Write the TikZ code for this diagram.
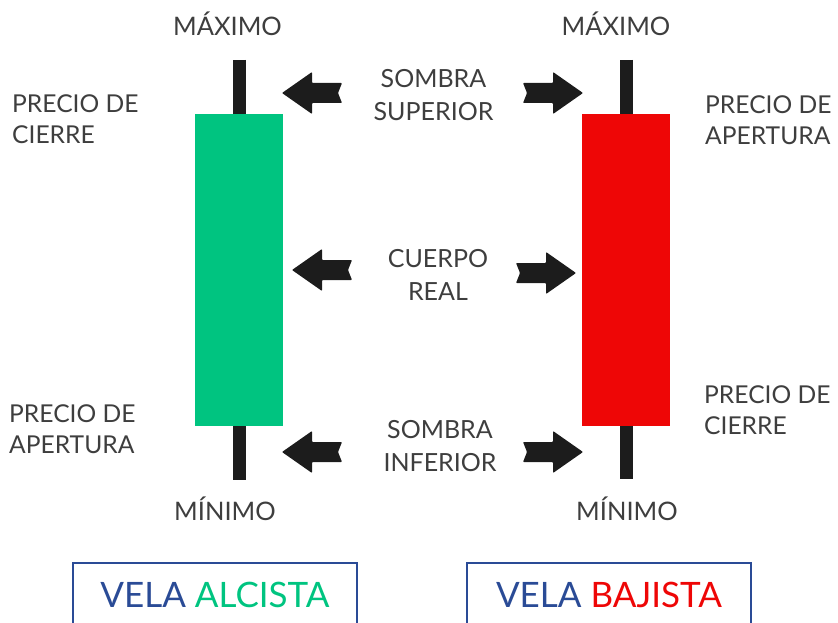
\documentclass[tikz,border=0pt]{standalone}
\usepackage{fontspec}
\setmainfont{Lato}
\usepackage{tikz}
\usetikzlibrary{positioning, calc}
\definecolor{alcista}{RGB}{0,196,128}
\definecolor{bajista}{RGB}{238,6,6}
\definecolor{mecha}{RGB}{28,28,28}
\definecolor{texto}{RGB}{62,62,62}
\definecolor{marco}{RGB}{42,75,150}
\tikzstyle{etiqueta} = [text=texto, inner sep=0, font=\fontsize{25.5}{30}\selectfont]
\tikzstyle{precio} = [text=texto, inner sep=0, align=left, anchor=north west, font=\fontsize{24.6}{31}\selectfont]
\tikzstyle{centro} = [text=texto, inner sep=0, align=center, anchor=north, font=\fontsize{25}{33}\selectfont]
\tikzstyle{cuerpo} = [rectangle, inner sep=0, minimum width=88pt, minimum height=312pt, anchor=north west]
\tikzstyle{mechaline} = [draw=mecha, line width=13pt]
\tikzstyle{titulo} = [rectangle, draw=marco, line width=2.5pt, minimum width=284pt, minimum height=63pt, font=\fontsize{35}{40}\selectfont]
\tikzset{flecha/.pic={
    \fill[mecha, rounded corners=0.8pt] (0,0) -- (-30,-21) -- (-30,-10) -- (-60,-10) -- (-56,0) -- (-60,10) -- (-30,10) -- (-30,21) -- cycle;
}}

\begin{document}
\begin{tikzpicture}[x=1pt, y=-1pt]
        \useasboundingbox (0,0) rectangle (838,623);

        % velas
        \coordinate (maxv) at (239.5,60);
        \coordinate (minv) at (239.5,480);
        \coordinate (maxr) at (626.5,60);
        \coordinate (minr) at (626.5,479);
        \draw [mechaline] (maxv) -- (minv);
        \draw [mechaline] (maxr) -- (minr);
        \node (verde) [cuerpo, fill=alcista] at (195,114) {};
        \node (roja) [cuerpo, fill=bajista] at (582,114) {};

        % textos
        \node (maximov) [etiqueta, anchor=base] at (227.5,36) {MÁXIMO};
        \node (maximor) [etiqueta, anchor=base] at (616,36) {MÁXIMO};
        \node (minimov) [etiqueta, anchor=base] at (225,520) {MÍNIMO};
        \node (minimor) [etiqueta, anchor=base] at (627,520) {MÍNIMO};
        \node (cierrev) [precio] at (12,94.4) {PRECIO DE\\CIERRE};
        \node (aperturav) [precio] at (9,404.4) {PRECIO DE\\APERTURA};
        \node (aperturar) [precio] at (705,95.4) {PRECIO DE\\APERTURA};
        \node (cierrer) [precio] at (704,385.4) {PRECIO DE\\CIERRE};
        \node (superior) [centro] at (433.5,69.6) {SOMBRA\\SUPERIOR};
        \node (real) [centro] at (438,249) {CUERPO\\REAL};
        \node (inferior) [centro] at (440,420) {SOMBRA\\INFERIOR};

        % flechas
        \pic [xscale=-1] at (282,93) {flecha};
        \pic at (583,93) {flecha};
        \pic [xscale=-1] at (292,270) {flecha};
        \pic at (576,273) {flecha};
        \pic [xscale=-1] at (282,452) {flecha};
        \pic at (583,452) {flecha};

        % titulos
        \node (alza) [titulo] at (215,594.5) {\textcolor{marco}{VELA} \textcolor{alcista}{ALCISTA}};
        \node (baja) [titulo] at (609,594.5) {\textcolor{marco}{VELA} \textcolor{bajista}{BAJISTA}};

\end{tikzpicture}
\end{document}
